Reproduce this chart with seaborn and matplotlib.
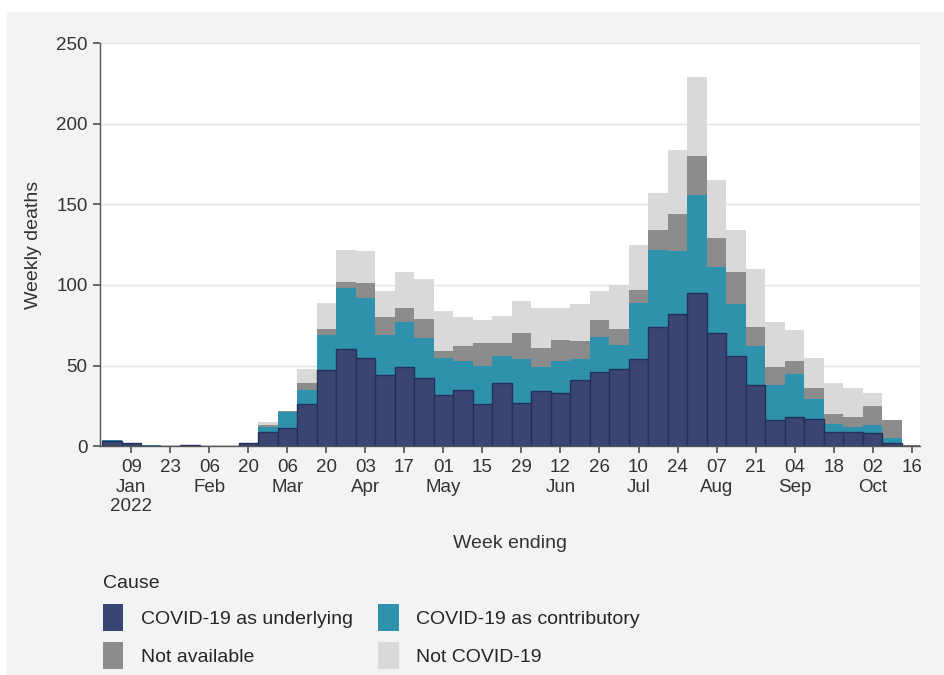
import numpy as np
import pandas as pd
import seaborn as sb
import matplotlib.pyplot as plt
from matplotlib.patches import Patch, Rectangle

sb.set_theme(style="white")
plt.rcParams['font.family'] = ['Liberation Sans', 'DejaVu Sans']

weeks = pd.date_range("2022-01-02", "2022-10-16", freq="7D")

underlying = [3, 2, 0, 0, 1, 0, 0, 2, 9, 11, 26, 47, 60, 55, 44, 49, 42, 32, 35, 26, 39,
              27, 34, 33, 41, 46, 48, 54, 74, 82, 95, 70, 56, 38, 16, 18, 17, 9, 9, 8, 2, 0]
contributory = [1, 0, 1, 0, 0, 0, 0, 0, 3, 10, 9, 22, 38, 37, 25, 28, 25, 23, 18, 24, 17,
                27, 15, 20, 13, 22, 15, 35, 48, 39, 61, 41, 32, 24, 22, 27, 12, 5, 3, 5, 3, 0]
not_available = [0, 0, 0, 0, 0, 0, 0, 0, 1, 1, 4, 4, 4, 9, 11, 9, 12, 4, 9, 14, 8,
                 16, 12, 13, 11, 10, 10, 8, 12, 23, 24, 18, 20, 12, 11, 8, 7, 6, 6, 12, 11, 1]
not_covid = [0, 0, 0, 0, 0, 0, 0, 0, 2, 0, 9, 16, 20, 20, 16, 22, 25, 25, 18, 14, 17,
             20, 25, 20, 23, 18, 27, 28, 23, 40, 49, 36, 26, 36, 28, 19, 19, 19, 18, 8, 0, 0]

causes = ["COVID-19 as underlying", "COVID-19 as contributory", "Not available", "Not COVID-19"]
colours = ["#3b4571", "#2f92ad", "#8c8c8c", "#d9d9d9"]

df = pd.DataFrame({
    "week": [w.strftime("%Y-%m-%d") for w in weeks],
    "u": underlying, "c": contributory, "na": not_available, "nc": not_covid,
})
df["s1"] = df["u"]
df["s2"] = df["s1"] + df["c"]
df["s3"] = df["s2"] + df["na"]
df["s4"] = df["s3"] + df["nc"]

fig = plt.figure(figsize=(9.44, 6.75), dpi=100)
fig.patch.set_facecolor("white")
# grey panel with a thin white margin at top and left
fig.patches.append(Rectangle((7 / 944, 0), 1, (675 - 12) / 675, transform=fig.transFigure,
                             facecolor="#f2f3f5", edgecolor="none", zorder=-10))
ax = fig.add_axes([0.106, 0.339, 0.869, 0.597])
ax.set_facecolor("white")

# stack from the top down so each layer covers the next
for col, colour in zip(["s4", "s3", "s2"], colours[::-1][:3]):
    sb.barplot(data=df, x="week", y=col, color=colour, width=1.0, saturation=1,
               errorbar=None, linewidth=0, ax=ax)
sb.barplot(data=df, x="week", y="s1", color=colours[0], width=1.0, saturation=1,
           errorbar=None, linewidth=1, edgecolor="#23305e", ax=ax)

tick_idx = list(range(1, len(weeks), 2))
labels = []
seen = set()
for i in tick_idx:
    w = weeks[i]
    lab = w.strftime("%d")
    if w.month not in seen:
        seen.add(w.month)
        lab += "\n" + w.strftime("%b")
        if w.month == 1:
            lab += "\n2022"
    labels.append(lab)
ax.set_xticks(tick_idx)
ax.set_xticklabels(labels, fontsize=13.5, color="#333333", linespacing=1.22)
ax.set_xlim(-0.6, 41.45)

ax.set_ylim(0, 250)
ax.set_yticks([0, 50, 100, 150, 200, 250])
ax.tick_params(axis="y", labelsize=13.5, labelcolor="#333333", length=5, color="#555555",
               direction="out", left=True, pad=4)
ax.tick_params(axis="x", length=5, color="#555555", direction="out", bottom=True, pad=4)
ax.yaxis.grid(True, color="#e3e3e3", linewidth=1)
ax.set_axisbelow(True)

for s in ["top", "right"]:
    ax.spines[s].set_visible(False)
ax.spines["left"].set_color("#555555")
ax.spines["bottom"].set_color("#555555")
ax.spines["left"].set_linewidth(1)
ax.spines["bottom"].set_linewidth(1)

ax.set_xlabel("Week ending", fontsize=14, color="#333333", labelpad=14)
ax.set_ylabel("Weekly deaths", fontsize=14, color="#333333", labelpad=10)

order = [0, 2, 1, 3]
handles = [Patch(facecolor=colours[i], edgecolor="none") for i in order]
fig.legend(handles, [causes[i] for i in order], title="Cause", ncol=2,
           loc="upper left", bbox_to_anchor=(0.109, 0.148), frameon=False,
           fontsize=14, title_fontsize=14, alignment="left",
           handlelength=1.05, handleheight=1.75, handletextpad=0.9,
           columnspacing=1.3, labelspacing=0.6, borderaxespad=0, borderpad=0)

fig.savefig("out.png", dpi=100, facecolor=fig.get_facecolor())
